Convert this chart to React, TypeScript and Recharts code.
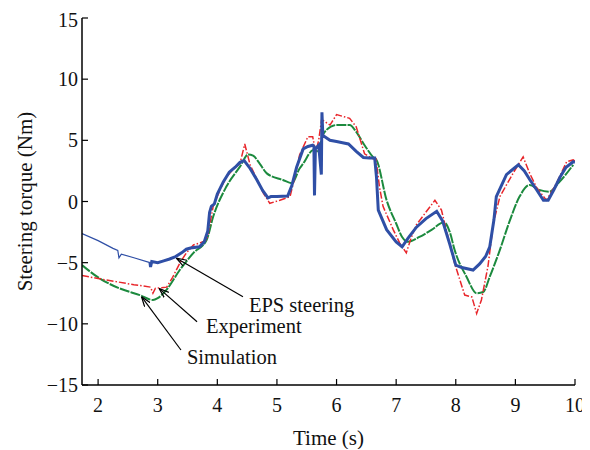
import React from "react";
import {
  LineChart,
  Line,
  XAxis,
  YAxis,
  ReferenceLine,
  ReferenceDot,
} from "recharts";

// ---- data (time in s, steering torque in Nm) ----
const epsThinTime = [1.73, 2.0, 2.25, 2.33, 2.35, 2.39, 2.6, 2.87];
const epsThinTorque = [-2.62, -3.2, -3.83, -4.0, -4.6, -4.3, -4.6, -5.0];

const epsTime = [
  2.87, 2.88, 2.9, 3.0, 3.1, 3.2, 3.3, 3.4, 3.48, 3.55, 3.7, 3.78, 3.84, 3.87,
  3.9, 3.95, 4.0, 4.1, 4.2, 4.25, 4.3, 4.38, 4.45, 4.55, 4.66, 4.76, 4.85, 4.9,
  5.0, 5.18, 5.25, 5.33, 5.44, 5.52, 5.6, 5.62, 5.63, 5.645, 5.7, 5.745, 5.755,
  5.77, 5.89, 6.0, 6.1, 6.2, 6.33, 6.45, 6.55, 6.64, 6.67, 6.7, 6.84, 7.0, 7.1,
  7.2, 7.34, 7.5, 7.68, 7.78, 7.9, 8.0, 8.1, 8.29, 8.4, 8.5, 8.57, 8.64, 8.68,
  8.85, 9.05, 9.15, 9.24, 9.35, 9.47, 9.55, 9.65, 9.75, 9.85, 9.97, 10.0,
];
const epsTorque = [
  -5.0, -5.35, -4.9, -5.0, -4.85, -4.7, -4.5, -4.2, -3.9, -3.8, -3.7, -3.3, -2.4,
  -0.9, -0.4, -0.2, 0.6, 1.6, 2.4, 2.6, 2.8, 3.2, 3.35, 2.7, 1.8, 0.9, 0.3, 0.4,
  0.4, 0.45, 1.3, 2.8, 4.3, 4.5, 4.6, 4.5, 0.5, 4.3, 4.6, 2.2, 7.3, 5.4, 5.0,
  4.9, 4.8, 4.7, 4.1, 3.6, 3.55, 3.55, 2.0, -0.7, -2.3, -3.3, -3.7, -3.0, -2.1,
  -1.4, -0.8, -1.6, -3.5, -5.2, -5.4, -5.6, -5.1, -4.5, -3.7, -1.5, 0.4, 2.2,
  3.0, 2.5, 1.8, 1.0, 0.1, 0.1, 1.0, 2.0, 2.8, 3.25, 3.2,
];

const expTime = [
  1.73, 2.0, 2.3, 2.6, 2.88, 2.92, 2.96, 3.15, 3.25, 3.37, 3.48, 3.6, 3.7, 3.82,
  3.87, 3.93, 4.05, 4.15, 4.28, 4.38, 4.46, 4.55, 4.71, 4.77, 4.88, 5.05, 5.22,
  5.3, 5.38, 5.52, 5.6, 5.65, 5.7, 5.75, 5.89, 6.0, 6.22, 6.33, 6.4, 6.47, 6.61,
  6.66, 6.72, 6.78, 6.95, 7.06, 7.17, 7.25, 7.34, 7.51, 7.65, 7.76, 7.87, 7.98,
  8.15, 8.27, 8.35, 8.43, 8.54, 8.63, 8.74, 8.96, 9.13, 9.24, 9.36, 9.52, 9.69,
  9.86, 9.97, 10.0,
];
const expTorque = [
  -6.05, -6.3, -6.55, -6.8, -7.0, -7.5, -7.1, -7.0, -6.2, -5.05, -4.2, -3.55,
  -3.4, -3.15, -2.0, -0.4, 1.0, 2.0, 2.7, 3.1, 4.7, 3.0, 1.35, 0.7, -0.15, 0.1,
  0.4, 2.0, 3.8, 5.3, 5.3, 4.0, 5.0, 6.7, 6.25, 7.1, 6.8, 6.1, 5.0, 3.9, 3.5, 3.5,
  1.2, -0.4, -2.3, -3.4, -4.2, -3.0, -1.9, -0.8, 0.1, -0.7, -2.9, -5.05, -7.65,
  -7.8, -9.15, -8.05, -5.3, -1.8, 0.4, 2.3, 3.65, 2.3, 1.1, 0.1, 1.5, 3.25, 3.4,
  3.3,
];

const simTime = [
  1.73, 2.03, 2.36, 2.7, 2.92, 3.0, 3.15, 3.37, 3.6, 3.82, 3.93, 4.15, 4.38, 4.52,
  4.6, 4.71, 4.83, 5.1, 5.25, 5.38, 5.44, 5.61, 5.69, 5.76, 5.83, 6.0, 6.22, 6.33,
  6.47, 6.61, 6.67, 6.84, 7.0, 7.1, 7.2, 7.39, 7.6, 7.8, 7.9, 7.98, 8.18, 8.35,
  8.46, 8.57, 8.74, 8.9, 9.07, 9.24, 9.4, 9.57, 9.74, 9.97,
];
const simTorque = [
  -5.2, -6.3, -7.1, -7.65, -8.05, -7.9, -7.2, -5.6, -4.2, -3.15, -1.25, 1.2, 2.85,
  3.85, 3.75, 3.1, 2.3, 1.76, 1.5, 2.7, 3.1, 4.2, 4.1, 5.3, 5.85, 6.25, 6.25, 5.7,
  4.6, 3.65, 3.4, 0.1, -1.8, -2.9, -3.3, -2.9, -2.3, -1.7, -2.5, -3.95, -6.15,
  -7.5, -7.4, -6.15, -3.95, -1.65, 0.4, 1.35, 0.95, 0.8, 1.6, 3.0,
];

const xTicks = [2, 3, 4, 5, 6, 7, 8, 9, 10];
const yTicks = [-15, -10, -5, 0, 5, 10, 15];

// annotation labels, text anchor points and arrow start / tip (data units)
const annotationLabels = ["EPS steering", "Experiment", "Simulation"];
const annotationText = [
  [4.53, -8.46],
  [3.81, -10.18],
  [3.49, -12.69],
];
const arrowStart = [
  [4.43, -7.78],
  [3.66, -9.83],
  [3.39, -12.14],
];
const arrowTip = [
  [3.315, -4.64],
  [3.023, -7.1],
  [2.728, -7.78],
];

const zip = (t: number[], v: number[]) => t.map((x, i) => ({ t: x, v: v[i] }));

const epsThinData = zip(epsThinTime, epsThinTorque);
const epsData = zip(epsTime, epsTorque);
const expData = zip(expTime, expTorque);
const simData = zip(simTime, simTorque);

const FONT = "'Liberation Serif', 'Times New Roman', serif";
const BLUE = "#2f4fa6";
const RED = "#e8262b";
const GREEN = "#1c8a3e";

const fmtY = (v: number) => (v < 0 ? `\u2212${Math.abs(v)}` : `${v}`);

const YLabel = (props: any) => {
  const vb = props.viewBox || {};
  const cx = vb.x + 3;
  const cy = vb.y + vb.height / 2;
  return (
    <text
      x={cx}
      y={cy}
      transform={`rotate(-90 ${cx} ${cy})`}
      textAnchor="middle"
      dominantBaseline="central"
      fontFamily={FONT}
      fontSize={21}
      fill="#111"
    >
      Steering torque (Nm)
    </text>
  );
};

export default function App() {
  return (
    <div style={{ position: "relative" }}>
      <style>{`html { overflow: hidden; }`}</style>
      <svg width={0} height={0} style={{ position: "absolute" }}>
        <defs>
          <marker
            id="openArrow"
            viewBox="0 0 10 8"
            refX={10}
            refY={4}
            markerWidth={10}
            markerHeight={8}
            markerUnits="userSpaceOnUse"
            orient="auto"
          >
            <path d="M0,0.5 L10,4 L0,7.5" fill="none" stroke="#000" strokeWidth={1.2} />
          </marker>
        </defs>
      </svg>
      <LineChart
        width={582}
        height={441}
        margin={{ top: 10, right: 15, bottom: 4, left: 14 }}
        style={{ overflow: "visible" }}
      >
        <XAxis
          xAxisId={0}
          dataKey="t"
          type="number"
          domain={[1.73, 10]}
          ticks={xTicks}
          allowDataOverflow
          height={60}
          axisLine={{ stroke: "#000", strokeWidth: 1.5 }}
          tickLine={{ stroke: "#000", strokeWidth: 1.2 }}
          tickSize={-6}
          tickMargin={19}
          tick={{ fill: "#111", fontFamily: FONT, fontSize: 20 }}
          label={{
            value: "Time (s)",
            position: "insideBottom",
            offset: 0,
            fill: "#111",
            fontFamily: FONT,
            fontSize: 21,
          }}
        />
        <XAxis
          xAxisId="top"
          orientation="top"
          dataKey="t"
          type="number"
          domain={[1.73, 10]}
          ticks={xTicks}
          allowDataOverflow
          height={0}
          axisLine={{ stroke: "#000", strokeWidth: 1.5 }}
          tickLine={{ stroke: "#000", strokeWidth: 1.2 }}
          tickSize={-6}
          tick={false}
        />
        <YAxis
          yAxisId={0}
          type="number"
          domain={[-15, 15]}
          ticks={yTicks}
          allowDataOverflow
          width={60}
          axisLine={{ stroke: "#000", strokeWidth: 1.5 }}
          tickLine={{ stroke: "#000", strokeWidth: 1.2 }}
          tickSize={-6}
          tickMargin={10}
          tickFormatter={fmtY}
          tick={{ fill: "#111", fontFamily: FONT, fontSize: 20 }}
          label={<YLabel />}
        />
        <YAxis
          yAxisId="right"
          orientation="right"
          type="number"
          domain={[-15, 15]}
          ticks={yTicks}
          allowDataOverflow
          width={0}
          axisLine={{ stroke: "#000", strokeWidth: 1.5 }}
          tickLine={{ stroke: "#000", strokeWidth: 1.2 }}
          tickSize={-6}
          tick={false}
        />
        <Line
          data={simData}
          dataKey="v"
          type="monotone"
          stroke={GREEN}
          strokeWidth={2}
          strokeDasharray="10 1.2"
          dot={false}
          isAnimationActive={false}
        />
        <Line
          data={expData}
          dataKey="v"
          type="linear"
          stroke={RED}
          strokeWidth={1.5}
          strokeDasharray="7 2 1.5 2"
          dot={false}
          isAnimationActive={false}
        />
        <Line
          data={epsThinData}
          dataKey="v"
          type="linear"
          stroke={BLUE}
          strokeWidth={1.2}
          dot={false}
          isAnimationActive={false}
        />
        <Line
          data={epsData}
          dataKey="v"
          type="linear"
          stroke={BLUE}
          strokeWidth={3}
          dot={false}
          isAnimationActive={false}
        />
        {annotationLabels.map((lab, i) => (
          <ReferenceLine
            key={`arr-${i}`}
            segment={[
              { x: arrowStart[i][0], y: arrowStart[i][1] },
              { x: arrowTip[i][0], y: arrowTip[i][1] },
            ]}
            stroke="#000"
            strokeWidth={1.2}
            markerEnd="url(#openArrow)"
          />
        ))}
        {annotationLabels.map((lab, i) => (
          <ReferenceDot
            key={`lab-${i}`}
            x={annotationText[i][0]}
            y={annotationText[i][1]}
            r={0}
            fill="none"
            stroke="none"
            label={{
              value: lab,
              position: "right",
              offset: 0,
              fill: "#111",
              fontFamily: FONT,
              fontSize: 20.5,
            }}
          />
        ))}
      </LineChart>
    </div>
  );
}
